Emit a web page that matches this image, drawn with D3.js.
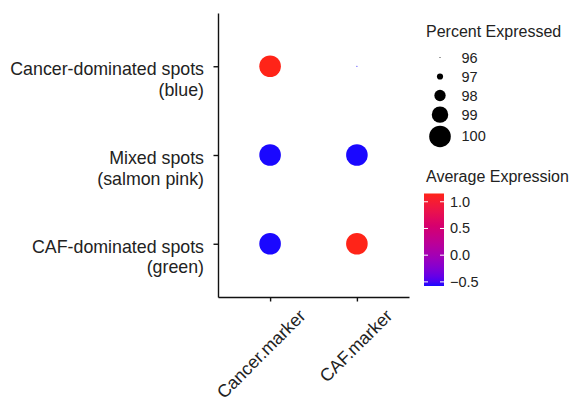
<!DOCTYPE html>
<html>
<head>
<meta charset="utf-8">
<script src="https://cdn.jsdelivr.net/npm/d3@7.9.0/dist/d3.min.js"></script>
<style>
  body { margin: 0; background: #fff; }
  text { font-family: "Liberation Sans", Arial, sans-serif; fill: #222; }
</style>
</head>
<body>
<div id="chart"></div>
<script>
// data
const features = ["Cancer.marker", "CAF.marker"];
const groups = [
  "Cancer-dominated spots|(blue)",
  "Mixed spots|(salmon pink)",
  "CAF-dominated spots|(green)"
];
// average expression (scaled), one array per group, in feature order
const avgCancerDom = [1.155, -0.577];
const avgMixed = [-0.577, -0.577];
const avgCafDom = [-0.577, 1.155];
// percent expressed
const pctCancerDom = [100, 96];
const pctMixed = [100, 100];
const pctCafDom = [100, 100];

const sizeBreaks = [96, 97, 98, 99, 100];
const colorBreaks = [-0.5, 0, 0.5, 1.0];

const avgRows = [avgCancerDom, avgMixed, avgCafDom];
const pctRows = [pctCancerDom, pctMixed, pctCafDom];

const cells = [];
groups.forEach((g, i) => {
  features.forEach((f, j) => {
    cells.push({ group: g, feature: f, avg: avgRows[i][j], pct: pctRows[i][j] });
  });
});

// config
const width = 577,
  height = 402;

const svg = d3
  .select("#chart")
  .append("svg")
  .attr("width", width)
  .attr("height", height);

const x = d3.scalePoint().domain(features).range([218, 409]).padding(0.6);
const y = d3.scalePoint().domain(groups).range([13, 297]).padding(0.6);

const avgExtent = d3.extent(cells, (d) => d.avg);
const color = d3
  .scaleLinear()
  .domain(avgExtent)
  .range(["#1a08ff", "#ff2418"])
  .interpolate(d3.interpolateLab);
const radius = d3.scaleLinear().domain([95.8, 100]).range([0, 10.8]);

// axes
const yAxis = svg
  .append("g")
  .attr("transform", "translate(218,0)")
  .call(d3.axisLeft(y).tickSizeInner(4.5).tickSizeOuter(0).tickFormat(""));

const xAxis = svg
  .append("g")
  .attr("transform", "translate(0,297)")
  .call(d3.axisBottom(x).tickSizeInner(4.5).tickSizeOuter(0).tickFormat(""));

[yAxis, xAxis].forEach((a) => {
  a.select(".domain").attr("stroke", "#111").attr("stroke-width", 1.4);
  a.selectAll(".tick line").attr("stroke", "#111").attr("stroke-width", 1.4);
});

// y labels, two lines each
yAxis
  .selectAll(".tick")
  .append("text")
  .attr("x", -14)
  .attr("text-anchor", "end")
  .style("font-size", "17.8px")
  .style("fill", "#222")
  .each(function (d) {
    const parts = d.split("|");
    const t = d3.select(this);
    t.append("tspan").attr("x", -14).attr("y", 8.5).text(parts[0]);
    t.append("tspan").attr("x", -14).attr("y", 29).text(parts[1]);
  });

// x labels, rotated
xAxis
  .selectAll(".tick")
  .append("text")
  .attr("text-anchor", "end")
  .attr("transform", "translate(36,20) rotate(-45)")
  .style("font-size", "17.8px")
  .style("fill", "#222")
  .text((d) => d);

// dots
svg
  .append("g")
  .selectAll("circle")
  .data(cells)
  .join("circle")
  .attr("cx", (d) => x(d.feature))
  .attr("cy", (d) => y(d.group))
  .attr("r", (d) => radius(d.pct))
  .attr("fill", (d) => color(d.avg));

// size legend
const sizeLeg = svg.append("g");
sizeLeg
  .append("text")
  .attr("x", 426)
  .attr("y", 37)
  .style("font-size", "16px")
  .text("Percent Expressed");

let cy = 48;
sizeBreaks.forEach((v) => {
  const r = radius(v);
  const h = Math.max(19, 2 * r + 2.8);
  const c = cy + h / 2;
  cy += h;
  sizeLeg.append("circle").attr("cx", 440).attr("cy", c).attr("r", r).attr("fill", "#000");
  sizeLeg
    .append("text")
    .attr("x", 461.5)
    .attr("y", c + 5)
    .style("font-size", "14.5px")
    .text(v);
});

// colour legend
const barTop = 193.5,
  barBottom = 286,
  barX = 424,
  barW = 20;

svg
  .append("text")
  .attr("x", 426)
  .attr("y", 182)
  .style("font-size", "16px")
  .text("Average Expression");

const grad = svg
  .append("defs")
  .append("linearGradient")
  .attr("id", "avgGrad")
  .attr("x1", 0)
  .attr("x2", 0)
  .attr("y1", 1)
  .attr("y2", 0);
d3.range(0, 1.0001, 0.05).forEach((t) => {
  grad
    .append("stop")
    .attr("offset", t)
    .attr("stop-color", color(avgExtent[0] + t * (avgExtent[1] - avgExtent[0])));
});

svg
  .append("rect")
  .attr("x", barX)
  .attr("y", barTop)
  .attr("width", barW)
  .attr("height", barBottom - barTop)
  .attr("fill", "url(#avgGrad)");

const barScale = d3.scaleLinear().domain(avgExtent).range([barBottom, barTop]);
const barTicks = svg.append("g");
colorBreaks.forEach((v) => {
  const ty = barScale(v);
  barTicks.append("line").attr("x1", barX).attr("x2", barX + 4).attr("y1", ty).attr("y2", ty)
    .attr("stroke", "#fff").attr("stroke-width", 1);
  barTicks.append("line").attr("x1", barX + barW - 4).attr("x2", barX + barW).attr("y1", ty).attr("y2", ty)
    .attr("stroke", "#fff").attr("stroke-width", 1);
  barTicks
    .append("text")
    .attr("x", 450)
    .attr("y", ty + 5)
    .style("font-size", "14.5px")
    .text(d3.format(".1f")(v));
});
</script>
</body>
</html>
